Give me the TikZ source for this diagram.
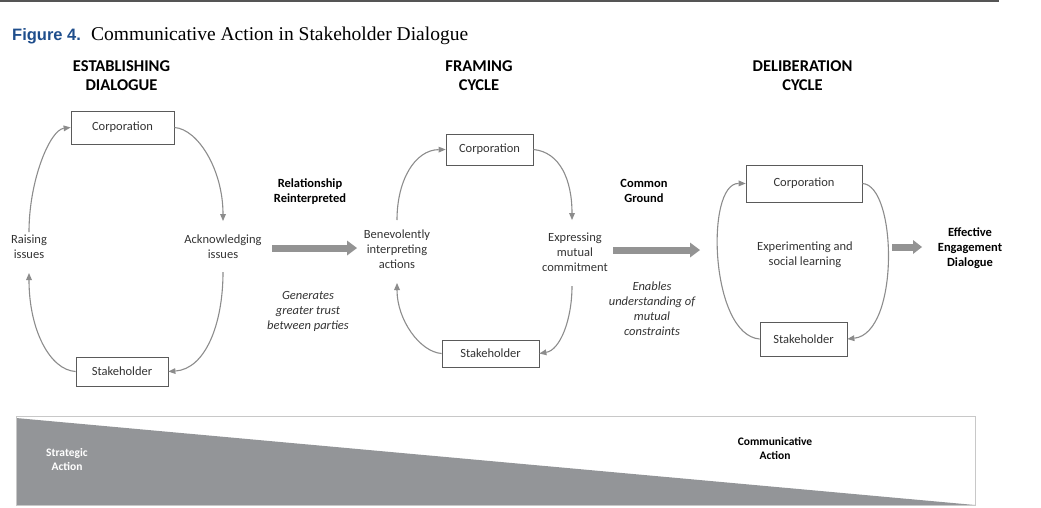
\documentclass[tikz,border=0pt]{standalone}
\usepackage{fontspec}
\usetikzlibrary{arrows.meta}
\newfontfamily\carlito{Carlito}
\newfontfamily\figsans{Liberation Sans}
\newfontfamily\figserif{Liberation Serif}
\definecolor{txt}{HTML}{333333}
\definecolor{boxc}{HTML}{5A5A5A}
\definecolor{arrc}{HTML}{8C8C8C}
\definecolor{bigc}{HTML}{939393}
\definecolor{trif}{HTML}{939598}
\definecolor{rectc}{HTML}{C8C8C8}
\definecolor{topc}{HTML}{555555}
\definecolor{figblue}{HTML}{1F4E8C}
\begin{document}
\begin{tikzpicture}[x=1pt,y=-1pt,
  box/.style={draw=boxc, line width=0.8pt, fill=white, inner sep=0pt, font=\carlito\fontsize{12.5}{15}\selectfont, text=txt},
  lbl/.style={align=center, font=\carlito\fontsize{12.5}{15}\selectfont, text=txt, inner sep=0pt},
  blbl/.style={align=center, font=\carlito\bfseries\fontsize{12.5}{15}\selectfont, text=black, inner sep=0pt},
  ilbl/.style={align=center, font=\carlito\itshape\fontsize{12.5}{15}\selectfont, text=txt, inner sep=0pt},
  head/.style={align=center, font=\carlito\bfseries\fontsize{16.5}{19.5}\selectfont, text=black, inner sep=0pt, anchor=base},
  slbl/.style={align=center, font=\carlito\bfseries\fontsize{11.5}{14}\selectfont, inner sep=0pt},
  cyc/.style={draw=arrc, line width=1.1pt, -{Triangle[length=7pt,width=6pt,line width=0pt]}},
  big/.style={draw=bigc, line width=7pt, -{Triangle[length=10pt,width=15pt,line width=0pt]}}
]
\useasboundingbox (0,0) rectangle (1041,507);

% top rule and title
\draw[topc, line width=2.2pt] (0,1.1) -- (999,1.1);
\node[anchor=base west, inner sep=0pt, font=\figsans\bfseries\fontsize{16.5}{20}\selectfont, text=figblue] (fig) at (12,40.7) {Figure 4.};
\node[anchor=base west, inner sep=0pt, font=\figserif\fontsize{19.5}{22}\selectfont] (ttl) at (91,40.7) {Communicative Action in Stakeholder Dialogue};

% headings (base anchor = last line)
\node[head] (h1) at (121.5,90.5) {ESTABLISHING\\DIALOGUE};
\node[head] (h2) at (479,90.5) {FRAMING\\CYCLE};
\node[head] (h3) at (802.5,90.5) {DELIBERATION\\CYCLE};

% left cycle
\node[box, minimum width=103pt, minimum height=33pt] (Lcorp) at (122.5,127.5) {Corporation};
\node[box, minimum width=92pt, minimum height=29pt] (Lstake) at (122,371.5) {Stakeholder};
\node[lbl] (raise) at (29,247) {Raising\\issues};
\node[lbl] (ack) at (223,247) {Acknowledging\\issues};
\coordinate (p1) at (223,221);
\coordinate (p2) at (223,272);
\coordinate (p3) at (29,273);
\coordinate (p4) at (29,232);
\draw[cyc] (Lcorp.east) .. controls (198,129) and (223,170) .. (p1);
\draw[cyc] (p2) .. controls (223,325) and (205,369) .. (Lstake.east);
\draw[cyc] (Lstake.west) .. controls (50,370) and (29,330) .. (p3);
\draw[cyc] (p4) .. controls (29,180) and (50,130) .. (Lcorp.west);

\node[blbl] (rel) at (310,192) {Relationship\\Reinterpreted};
\node[ilbl] (gen) at (308,311) {Generates\\greater trust\\between parties};
\coordinate (a1s) at (272,248);
\coordinate (a1e) at (357,248);
\draw[big] (a1s) -- (a1e);

% middle cycle
\node[box, minimum width=87pt, minimum height=31pt] (Mcorp) at (489.5,149.5) {Corporation};
\node[box, minimum width=97pt, minimum height=27pt] (Mstake) at (490.5,353.5) {Stakeholder};
\node[lbl] (ben) at (397,249) {Benevolently\\interpreting\\actions};
\node[lbl] (exp) at (575,252) {Expressing\\mutual\\commitment};
\coordinate (q1) at (397,220);
\coordinate (q2) at (572,220);
\coordinate (q3) at (572,286);
\coordinate (q4) at (397,283);
\draw[cyc] (q1) .. controls (397,180) and (415,150) .. (Mcorp.west);
\draw[cyc] (Mcorp.east) .. controls (560,152) and (572,180) .. (q2);
\draw[cyc] (q3) .. controls (572,320) and (560,350) .. (Mstake.east);
\draw[cyc] (Mstake.west) .. controls (420,352) and (397,320) .. (q4);

\node[blbl] (cg) at (644,191) {Common\\Ground};
\node[ilbl] (en) at (652,309) {Enables\\understanding of\\mutual\\constraints};
\coordinate (a2s) at (613,250);
\coordinate (a2e) at (700,250);
\draw[big] (a2s) -- (a2e);

% right cycle
\node[box, minimum width=116pt, minimum height=37pt] (Rcorp) at (804,183.5) {Corporation};
\node[box, minimum width=87pt, minimum height=34pt] (Rstake) at (803.5,339) {Stakeholder};
\node[lbl] (expr) at (805,255) {Experimenting and\\social learning};
\draw[cyc] (Rstake.west) .. controls (710,335) and (705,183) .. (Rcorp.west);
\draw[cyc] (Rcorp.east) .. controls (897,185) and (900,333) .. (Rstake.east);

\coordinate (a3s) at (892,247);
\coordinate (a3e) at (922,247);
\draw[big, -{Triangle[length=9pt,width=14pt,line width=0pt]}] (a3s) -- (a3e);
\node[blbl] (eff) at (970,248) {Effective\\Engagement\\Dialogue};

% bottom band
\fill[trif] (16,418) -- (975,505) -- (16,505) -- cycle;
\draw[rectc, line width=1pt] (16,416) rectangle (975,505);
\node[slbl, text=white] (strat) at (67,459) {Strategic\\Action};
\node[slbl, text=black] (comm) at (775,448) {Communicative\\Action};
\end{tikzpicture}
\end{document}
